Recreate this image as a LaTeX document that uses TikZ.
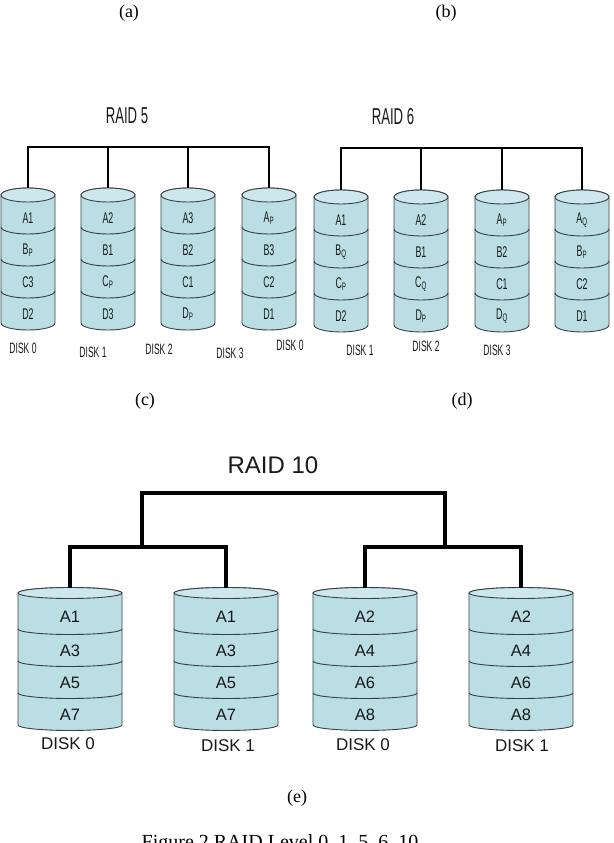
\documentclass[tikz,border=0pt]{standalone}
\usepackage{fontspec}
\setmainfont{Liberation Serif}
\setsansfont{Liberation Sans}
\newfontfamily\narrowsf{Liberation Sans}[FakeStretch=0.57]
\usepackage{tikz}
\definecolor{cellfill}{RGB}{186,222,228}
\definecolor{celltop}{RGB}{204,232,236}
\definecolor{cellline}{RGB}{58,64,68}
\tikzset{
  diskbody/.style  = {fill=cellfill, draw=cellline, line width=0.9pt},
  disktop/.style   = {fill=celltop, draw=cellline, line width=0.9pt},
  diskline/.style  = {draw=cellline, line width=0.9pt},
  cellsmall/.style = {font=\narrowsf\fontsize{15.5}{16}\selectfont, text=black!90},
  cellbig/.style   = {font=\sffamily\fontsize{16.5}{17}\selectfont, text=black!90},
  namesmall/.style = {font=\narrowsf\fontsize{15}{16}\selectfont, text=black!90},
  namebig/.style   = {font=\sffamily\fontsize{17}{18}\selectfont, text=black!90},
  titlesmall/.style= {font=\narrowsf\fontsize{23}{24}\selectfont, text=black!90},
  titlebig/.style  = {font=\sffamily\fontsize{24}{26}\selectfont, text=black!90},
  tag/.style       = {font=\rmfamily\fontsize{18}{20}\selectfont},
  bus/.style       = {line width=2.6pt, line join=miter},
  busbig/.style    = {line width=4.2pt, line join=miter}
}
% disk stack: name, x, top y, rx, ry, first gap, gap, cell style, labels
\newcommand{\diskstack}[9]{%
  \pgfmathsetmacro\dbot{#3+#6+3*#7}
  \filldraw[diskbody] ({#2-#4},{-#3}) -- ({#2-#4},{-\dbot})
    arc[start angle=180, end angle=360, x radius=#4, y radius=#5]
    -- ({#2+#4},{-#3})
    arc[start angle=0, end angle=180, x radius=#4, y radius=#5] -- cycle;
  \draw[disktop] (#2,{-#3}) ellipse [x radius=#4, y radius=#5];
  \foreach \k in {0,1,2}
    \draw[diskline] ({#2-#4},{-(#3+#6+\k*#7)})
      arc[start angle=180, end angle=360, x radius=#4, y radius=#5];
  \foreach \lab [count=\i] in {#9} {
    \pgfmathsetmacro\yy{\i==1 ? #3+#6/2+#5 : #3+#6+(\i-1.5)*#7+#5}
    \node[#8] (#1-\i) at (#2,-\yy) {\lab};
  }
  \coordinate (#1) at (#2,{-(#3-#5)});
}

\begin{document}
\begin{tikzpicture}[x=1pt, y=1pt]
  \clip (0,0) rectangle (613,-843);

  % panel tags
  \node[tag] (taga) at (129,-13) {(a)};
  \node[tag] (tagb) at (446,-13) {(b)};
  \node[tag] (tagc) at (145,-401) {(c)};
  \node[tag] (tagd) at (462,-401) {(d)};
  \node[tag] (tage) at (297,-798) {(e)};
  \node[tag, font=\rmfamily\fontsize{20}{22}\selectfont, anchor=base]
    (caption) at (280,-848) {Figure 2 RAID Level 0, 1, 5, 6, 10};

  % RAID 5
  \node[titlesmall] (r5title) at (127,-116) {RAID 5};
  \diskstack{r5d0}{28}{195}{27}{7}{32}{32}{cellsmall}{A1, B\textsubscript{P}, C3, D2}
  \diskstack{r5d1}{108}{195}{27}{7}{32}{32}{cellsmall}{A2, B1, C\textsubscript{P}, D3}
  \diskstack{r5d2}{188}{195}{27}{7}{32}{32}{cellsmall}{A3, B2, C1, D\textsubscript{P}}
  \diskstack{r5d3}{269}{195}{27}{7}{32}{32}{cellsmall}{A\textsubscript{P}, B3, C2, D1}
  \node[namesmall] (r5n0) at (23,-348) {DISK 0};
  \node[namesmall] (r5n1) at (93,-352) {DISK 1};
  \node[namesmall] (r5n2) at (159,-349) {DISK 2};
  \node[namesmall] (r5n3) at (230,-353) {DISK 3};
  \coordinate (r5bar) at (147,-147);
  \draw[bus] (r5d0) |- (r5bar) -| (r5d3);
  \draw[bus] (r5d1) -- (r5d1 |- r5bar);
  \draw[bus] (r5d2) -- (r5d2 |- r5bar);

  % RAID 6
  \node[titlesmall] (r6title) at (393,-117) {RAID 6};
  \diskstack{r6d0}{341}{197}{27}{7}{32}{32}{cellsmall}{A1, B\textsubscript{Q}, C\textsubscript{P}, D2}
  \diskstack{r6d1}{421}{197}{27}{7}{32}{32}{cellsmall}{A2, B1, C\textsubscript{Q}, D\textsubscript{P}}
  \diskstack{r6d2}{502}{197}{27}{7}{32}{32}{cellsmall}{A\textsubscript{P}, B2, C1, D\textsubscript{Q}}
  \diskstack{r6d3}{582}{197}{27}{7}{32}{32}{cellsmall}{A\textsubscript{Q}, B\textsubscript{P}, C2, D1}
  \node[namesmall] (r6n0) at (290,-345) {DISK 0};
  \node[namesmall] (r6n1) at (360,-350) {DISK 1};
  \node[namesmall] (r6n2) at (426,-346) {DISK 2};
  \node[namesmall] (r6n3) at (497,-350) {DISK 3};
  \coordinate (r6bar) at (460,-148);
  \draw[bus] (r6d0) |- (r6bar) -| (r6d3);
  \draw[bus] (r6d1) -- (r6d1 |- r6bar);
  \draw[bus] (r6d2) -- (r6d2 |- r6bar);

  % RAID 10
  \node[titlebig] (r10title) at (273,-465) {RAID 10};
  \diskstack{r10d0}{70}{593}{52}{5.5}{36}{32}{cellbig}{A1, A3, A5, A7}
  \diskstack{r10d1}{226}{593}{52}{5.5}{36}{32}{cellbig}{A1, A3, A5, A7}
  \diskstack{r10d2}{365}{593}{52}{5.5}{36}{32}{cellbig}{A2, A4, A6, A8}
  \diskstack{r10d3}{521}{593}{52}{5.5}{36}{32}{cellbig}{A2, A4, A6, A8}
  \node[namebig] (r10n0) at (68,-744) {DISK 0};
  \node[namebig] (r10n1) at (228,-746) {DISK 1};
  \node[namebig] (r10n2) at (363,-745) {DISK 0};
  \node[namebig] (r10n3) at (522,-746) {DISK 1};
  \coordinate (mirror0) at (142,-547);
  \coordinate (mirror1) at (445,-547);
  \coordinate (stripe) at (293,-493);
  \draw[busbig] (r10d0) |- (mirror0) -| (r10d1);
  \draw[busbig] (r10d2) |- (mirror1) -| (r10d3);
  \draw[busbig] (mirror0) |- (stripe) -| (mirror1);
\end{tikzpicture}
\end{document}
